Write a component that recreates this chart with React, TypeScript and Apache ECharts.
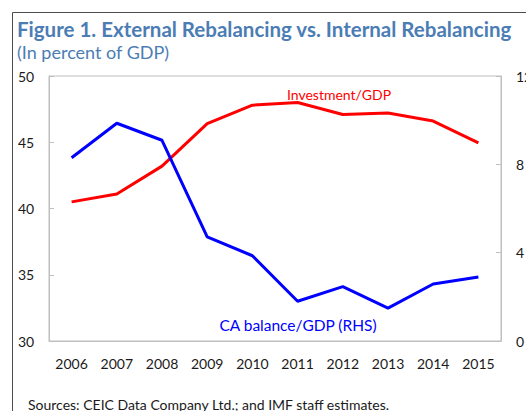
import React, { useEffect, useRef } from "react";
import * as echarts from "echarts";

const years = ["2006", "2007", "2008", "2009", "2010", "2011", "2012", "2013", "2014", "2015"];
const investmentGdp = [40.5, 41.1, 43.2, 46.4, 47.8, 48.0, 47.1, 47.2, 46.6, 44.95];
const caBalanceGdp = [8.3, 9.86, 9.09, 4.71, 3.86, 1.8, 2.46, 1.49, 2.58, 2.9];
const leftTicks = { min: 30, max: 50, interval: 5 };
const rightTicks = { min: 0, max: 12, interval: 4 };

const FONT = "Lato, 'Open Sans', sans-serif";
const TITLE_BLUE = "#4b7db4";

export default function App() {
  const ref = useRef<HTMLDivElement>(null);
  useEffect(() => {
    if (!ref.current) return;
    const chart = echarts.init(ref.current, null, { renderer: "svg" });
    chart.setOption({
      animation: false,
      backgroundColor: "#ffffff",
      textStyle: { fontFamily: FONT },
      title: {
        text: "Figure 1. External Rebalancing vs. Internal Rebalancing",
        subtext: "(In percent of GDP)",
        left: 17,
        top: 18,
        itemGap: 4,
        padding: 0,
        textStyle: { color: TITLE_BLUE, fontSize: 20.5, fontWeight: "bold", fontFamily: FONT },
        subtextStyle: { color: TITLE_BLUE, fontSize: 18, fontFamily: FONT },
      },
      grid: {
        left: 49,
        right: 25,
        top: 76,
        bottom: 70,
        show: true,
        borderColor: "#bfbfbf",
        borderWidth: 1,
        containLabel: false,
        outerBoundsMode: "none",
      },
      xAxis: {
        type: "category",
        data: years,
        boundaryGap: true,
        axisLine: { lineStyle: { color: "#bfbfbf" } },
        axisTick: { inside: true, length: 5, lineStyle: { color: "#bfbfbf" } },
        axisLabel: { color: "#1a1a1a", fontSize: 14, margin: 15, fontFamily: FONT },
        splitLine: { show: false },
      },
      yAxis: [
        {
          type: "value",
          position: "left",
          ...leftTicks,
          axisLine: { show: true, lineStyle: { color: "#bfbfbf" } },
          axisTick: { show: true, inside: true, length: 5, lineStyle: { color: "#bfbfbf" } },
          axisLabel: { color: "#1a1a1a", fontSize: 14, margin: 31, align: "left", fontFamily: FONT },
          splitLine: { show: false },
        },
        {
          type: "value",
          position: "right",
          ...rightTicks,
          axisLine: { show: true, lineStyle: { color: "#bfbfbf" } },
          axisTick: { show: true, inside: true, length: 5, lineStyle: { color: "#bfbfbf" } },
          axisLabel: { color: "#1a1a1a", fontSize: 14, margin: 15, align: "left", fontFamily: FONT },
          splitLine: { show: false },
        },
      ],
      series: [
        {
          name: "Investment/GDP",
          type: "line",
          yAxisIndex: 0,
          data: investmentGdp,
          symbol: "none",
          lineStyle: { color: "#ff0000", width: 3 },
          itemStyle: { color: "#ff0000" },
        },
        {
          name: "CA balance/GDP (RHS)",
          type: "line",
          yAxisIndex: 1,
          data: caBalanceGdp,
          symbol: "none",
          lineStyle: { color: "#0000ff", width: 3 },
          itemStyle: { color: "#0000ff" },
        },
      ],
      graphic: [
        { type: "line", shape: { x1: 12.5, y1: 12.5, x2: 526, y2: 12.5 }, style: { stroke: "#4d4d4d", lineWidth: 1 } },
        { type: "line", shape: { x1: 12.5, y1: 12.5, x2: 12.5, y2: 411 }, style: { stroke: "#4d4d4d", lineWidth: 1 } },
        {
          type: "text",
          x: 339,
          y: 94,
          style: { text: "Investment/GDP", fill: "#ff0000", font: `14px ${FONT}`, align: "center", verticalAlign: "middle" },
        },
        {
          type: "text",
          x: 298,
          y: 325,
          style: { text: "CA balance/GDP (RHS)", fill: "#0000ff", font: `15.5px ${FONT}`, align: "center", verticalAlign: "middle" },
        },
        {
          type: "text",
          x: 28,
          y: 404,
          style: { text: "Sources: CEIC Data Company Ltd.; and IMF staff estimates.", fill: "#1a1a1a", font: `14px ${FONT}`, align: "left", verticalAlign: "middle" },
        },
      ],
    });
    return () => chart.dispose();
  }, []);
  return <div ref={ref} style={{ position: "absolute", left: 0, top: 0, width: 526, height: 411 }} />;
}
